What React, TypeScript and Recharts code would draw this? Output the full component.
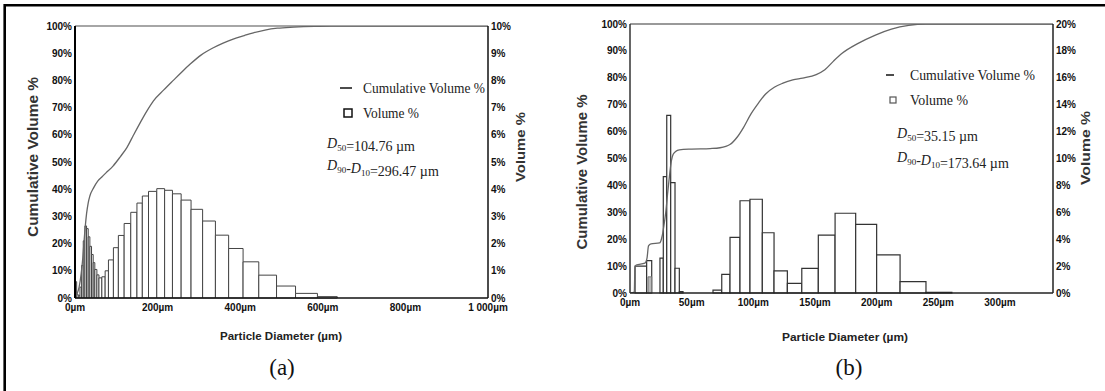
import React from 'react';
import { ComposedChart, Line, XAxis, YAxis, ReferenceArea, ReferenceLine } from 'recharts';

// ---------- Panel (a) data ----------
const A_BIN_EDGES = [0, 4, 8, 12, 16, 20, 24, 28, 32, 36, 40, 44, 48, 53, 58, 65, 73, 81, 93, 105, 119, 135, 150, 163, 178, 198, 217, 236, 257, 281, 309, 340, 372, 407, 445, 488, 534, 587, 635];
const A_VOLUME = [0.6, 0.12, 0.1, 0.4, 1.2, 2.1, 2.65, 2.55, 2.25, 1.9, 1.6, 1.3, 1.05, 0.85, 0.74, 0.78, 1.0, 1.4, 1.85, 2.3, 2.74, 3.15, 3.49, 3.75, 3.92, 4.02, 3.96, 3.83, 3.6, 3.26, 2.83, 2.31, 1.82, 1.33, 0.84, 0.44, 0.17, 0.05];
const A_CUM_X = [0, 5, 10, 15, 19, 22, 25, 28, 32, 36, 45, 55, 65, 75, 92, 110, 126, 142, 158, 175, 190, 215, 238, 260, 279, 305, 335, 360, 383, 410, 432, 460, 490, 530, 580, 620, 1000];
const A_CUM_Y = [0, 1.5, 4, 9, 15, 21, 26.5, 31, 35, 37.5, 40.5, 43, 44.5, 46, 48.5, 52, 55.4, 60, 64.5, 69, 72.5, 76.5, 80, 83.3, 86, 89.3, 92, 93.8, 95.2, 96.5, 97.5, 98.5, 99.2, 99.6, 99.9, 100, 100];
const A_X_TICKS = [0, 200, 400, 600, 800, 1000];
const A_LEFT_TICKS = [0, 10, 20, 30, 40, 50, 60, 70, 80, 90, 100];
const A_RIGHT_TICKS = [0, 1, 2, 3, 4, 5, 6, 7, 8, 9, 10];

// ---------- Panel (b) data ----------
const B_BIN_START = [4.1, 13.5, 24.3, 27, 29.8, 33, 36.5, 40, 67.3, 74.4, 81.1, 89.2, 97.3, 107.3, 116.8, 127.6, 139.3, 152.7, 166.3, 183, 200, 219, 240];
const B_BIN_END = [13.5, 17.6, 27, 29.8, 33, 36.5, 40, 43, 74.4, 81.1, 89.2, 97.3, 107.3, 116.8, 127.6, 139.3, 152.7, 166.3, 183, 200, 219, 240, 261];
const B_VOLUME = [2.0, 2.4, 2.6, 8.65, 13.2, 8.2, 1.84, 0.1, 0.22, 1.39, 4.14, 6.86, 6.97, 4.48, 1.64, 0.72, 1.83, 4.31, 5.93, 5.1, 2.83, 0.84, 0.05];
const B_INNER_START = [14.6];
const B_INNER_END = [17.6];
const B_INNER_VOLUME = [1.2];
const B_CUM_X = [0, 3.5, 4, 5, 12, 13.8, 15, 17, 24, 26, 27.5, 29, 30.5, 32, 33.5, 35, 37, 40, 50, 65, 73, 81, 87, 92, 98, 104, 110, 117, 124, 132, 140, 151, 158, 165, 172, 185, 199, 212, 226, 240, 343];
const B_CUM_Y = [0, 0.3, 9.5, 10.4, 11.1, 13, 17.5, 18.3, 18.6, 21, 25, 30, 37, 43.5, 49, 51.6, 52.6, 53.2, 53.5, 53.7, 54, 55.2, 58, 61.5, 66.5, 70.5, 74, 76.5, 78, 79.2, 79.9, 81.2, 83, 86.2, 89.1, 92.8, 95.9, 98.1, 99.5, 100, 100];
const B_X_TICKS = [0, 50, 100, 150, 200, 250, 300];
const B_LEFT_TICKS = [0, 10, 20, 30, 40, 50, 60, 70, 80, 90, 100];
const B_RIGHT_TICKS = [0, 2, 4, 6, 8, 10, 12, 14, 16, 18, 20];

const aCum = A_CUM_X.map((x, i) => ({ x, c: A_CUM_Y[i] }));
const bCum = B_CUM_X.map((x, i) => ({ x, c: B_CUM_Y[i] }));
const aBins = A_VOLUME.map((v, i) => ({ x1: A_BIN_EDGES[i], x2: A_BIN_EDGES[i + 1], v }));
const bBins = B_VOLUME.map((v, i) => ({ x1: B_BIN_START[i], x2: B_BIN_END[i], v }));
const bInner = B_INNER_VOLUME.map((v, i) => ({ x1: B_INNER_START[i], x2: B_INNER_END[i], v }));
// points at bin starts, used to bind the volume axis to the histogram series
const aBinPts = aBins.map((b) => ({ x: b.x1, v: b.v }));
const bBinPts = bBins.map((b) => ({ x: b.x1, v: b.v }));

const SANS = 'Liberation Sans, Arial, sans-serif';
const SERIF = 'Liberation Serif, Times New Roman, serif';
const tickStyle = { fontSize: 10, fontWeight: 700, fill: '#111', fontFamily: SANS };

const umFmt = (v: number) => (v === 1000 ? '1 000µm' : `${v}µm`);
const pctFmt = (v: number) => `${v}%`;

function Sub({ d, n }: { d: string; n: string }) {
  return (
    <>
      <tspan fontStyle="italic">{d}</tspan>
      <tspan fontSize={9} dy={3}>{n}</tspan>
      <tspan dy={-3}></tspan>
    </>
  );
}

export default function App() {
  return (
    <div style={{ position: 'absolute', left: 0, top: 0, width: 1105, height: 391, background: '#fff', overflow: 'hidden' }}>
      {/* Panel (a) */}
      <div style={{ position: 'absolute', left: 0, top: 0 }}>
        <ComposedChart width={550} height={391} data={aCum} margin={{ top: 26, right: 22, bottom: 63, left: 35 }}>
          <XAxis type="number" dataKey="x" domain={[0, 1000]} ticks={A_X_TICKS} interval={0} tickFormatter={umFmt} allowDataOverflow
            height={30} tickLine={false} tickSize={4} tickMargin={2} tick={tickStyle} axisLine={{ stroke: '#111', strokeWidth: 1.5 }} />
          <YAxis yAxisId="left" type="number" domain={[0, 100]} ticks={A_LEFT_TICKS} interval={0} tickFormatter={pctFmt} allowDataOverflow
            width={40} tickLine={false} tickSize={1} tickMargin={2} tick={tickStyle} axisLine={{ stroke: '#000', strokeWidth: 2 }} />
          <YAxis yAxisId="right" orientation="right" type="number" domain={[0, 10]} ticks={A_RIGHT_TICKS} interval={0} tickFormatter={pctFmt} allowDataOverflow
            width={40} tickLine={false} tickSize={1} tickMargin={2} tick={tickStyle} axisLine={{ stroke: '#111', strokeWidth: 1.5 }} />
          <Line yAxisId="right" data={aBinPts} dataKey="v" type="stepAfter" stroke="none" strokeOpacity={0} dot={false} activeDot={false} isAnimationActive={false} legendType="none" />
          <ReferenceLine yAxisId="left" y={100} stroke="#888" strokeWidth={1.5} />
          {aBins.map((b, i) => (
            <ReferenceArea key={'a' + i} yAxisId="right" x1={b.x1} x2={b.x2} y1={0} y2={b.v} ifOverflow="visible"
              fill="#fff" fillOpacity={1} stroke="#444" strokeWidth={1} />
          ))}
          <Line yAxisId="left" type="monotone" dataKey="c" stroke="#666" strokeWidth={1.3} dot={false} isAnimationActive={false} />
        </ComposedChart>
      </div>

      {/* Panel (b) */}
      <div style={{ position: 'absolute', left: 550, top: 0 }}>
        <ComposedChart width={555} height={391} data={bCum} margin={{ top: 24, right: 12, bottom: 68, left: 40 }}>
          <XAxis type="number" dataKey="x" domain={[0, 343]} ticks={B_X_TICKS} interval={0} tickFormatter={umFmt} allowDataOverflow
            height={30} tickLine={false} tickSize={4} tickMargin={2} tick={tickStyle} axisLine={{ stroke: '#222', strokeWidth: 1.5 }} />
          <YAxis yAxisId="left" type="number" domain={[0, 100]} ticks={B_LEFT_TICKS} interval={0} tickFormatter={pctFmt} allowDataOverflow
            width={40} tickLine={false} tickSize={1} tickMargin={2} tick={tickStyle} axisLine={{ stroke: '#333', strokeWidth: 1.5 }} />
          <YAxis yAxisId="right" orientation="right" type="number" domain={[0, 20]} ticks={B_RIGHT_TICKS} interval={0} tickFormatter={pctFmt} allowDataOverflow
            width={40} tickLine={false} tickSize={1} tickMargin={2} tick={tickStyle} axisLine={{ stroke: '#222', strokeWidth: 1.5 }} />
          <Line yAxisId="right" data={bBinPts} dataKey="v" type="stepAfter" stroke="none" strokeOpacity={0} dot={false} activeDot={false} isAnimationActive={false} legendType="none" />
          <ReferenceLine yAxisId="left" y={100} stroke="#777" strokeWidth={1.5} />
          {bBins.map((b, i) => (
            <ReferenceArea key={'b' + i} yAxisId="right" x1={b.x1} x2={b.x2} y1={0} y2={b.v} ifOverflow="visible"
              fill="#fff" fillOpacity={1} stroke="#333" strokeWidth={1.2} />
          ))}
          {bInner.map((b, i) => (
            <ReferenceArea key={'bi' + i} yAxisId="right" x1={b.x1} x2={b.x2} y1={0} y2={b.v} ifOverflow="visible"
              fill="#bbb" fillOpacity={1} stroke="#777" strokeWidth={1} />
          ))}
          <Line yAxisId="left" type="monotone" dataKey="c" stroke="#666" strokeWidth={1.3} dot={false} isAnimationActive={false} />
        </ComposedChart>
      </div>

      {/* Text overlay: frame, titles, legends, captions */}
      <svg width={1105} height={391} style={{ position: 'absolute', left: 0, top: 0, pointerEvents: 'none' }}>
        <path d="M4.7,391 L4.7,5.3 L1105,5.3" fill="none" stroke="#000" strokeWidth={2.6} />

        {/* axis titles (a) */}
        <text transform="translate(33,157) rotate(-90)" textAnchor="middle" dy="0.35em" fontFamily={SANS} fontWeight={700}
          fontSize={14} fill="#333" textLength={160} lengthAdjust="spacingAndGlyphs">Cumulative Volume %</text>
        <text transform="translate(521,147) rotate(-90)" textAnchor="middle" dy="0.35em" fontFamily={SANS} fontWeight={700}
          fontSize={12} fill="#333" textLength={70} lengthAdjust="spacingAndGlyphs">Volume %</text>
        <text x={281} y={336} textAnchor="middle" dy="0.35em" fontFamily={SANS} fontWeight={700}
          fontSize={11} fill="#222" textLength={122} lengthAdjust="spacingAndGlyphs">Particle Diameter (µm)</text>

        {/* axis titles (b) */}
        <text transform="translate(582,172) rotate(-90)" textAnchor="middle" dy="0.35em" fontFamily={SANS} fontWeight={700}
          fontSize={14} fill="#333" textLength={155} lengthAdjust="spacingAndGlyphs">Cumulative Volume %</text>
        <text transform="translate(1086,148) rotate(-90)" textAnchor="middle" dy="0.35em" fontFamily={SANS} fontWeight={700}
          fontSize={12} fill="#333" textLength={74} lengthAdjust="spacingAndGlyphs">Volume %</text>
        <text x={845} y={337} textAnchor="middle" dy="0.35em" fontFamily={SANS} fontWeight={700}
          fontSize={11} fill="#222" textLength={126} lengthAdjust="spacingAndGlyphs">Particle Diameter (µm)</text>

        {/* legend (a) */}
        <line x1={340} x2={352} y1={88} y2={88} stroke="#111" strokeWidth={1.5} />
        <text x={363} y={88} dy="0.35em" fontFamily={SERIF} fontSize={14} fill="#222" textLength={122} lengthAdjust="spacingAndGlyphs">Cumulative Volume %</text>
        <rect x={344} y={109} width={8} height={8} fill="none" stroke="#111" strokeWidth={1.5} />
        <text x={363} y={113} dy="0.35em" fontFamily={SERIF} fontSize={14} fill="#222" textLength={56} lengthAdjust="spacingAndGlyphs">Volume %</text>
        <text x={327} y={143} dy="0.35em" fontFamily={SERIF} fontSize={14} fill="#222">
          <Sub d="D" n="50" />=104.76 µm
        </text>
        <text x={327} y={165} dy="0.35em" fontFamily={SERIF} fontSize={14} fill="#222">
          <Sub d="D" n="90" />-<Sub d="D" n="10" />=296.47 µm
        </text>

        {/* legend (b) */}
        <line x1={886} x2={894} y1={75} y2={75} stroke="#111" strokeWidth={1.5} />
        <text x={910} y={75} dy="0.35em" fontFamily={SERIF} fontSize={14} fill="#222" textLength={125} lengthAdjust="spacingAndGlyphs">Cumulative Volume %</text>
        <rect x={890} y={97} width={6} height={6} fill="none" stroke="#555" strokeWidth={1.2} />
        <text x={910} y={100} dy="0.35em" fontFamily={SERIF} fontSize={14} fill="#222" textLength={58} lengthAdjust="spacingAndGlyphs">Volume %</text>
        <text x={897} y={133} dy="0.35em" fontFamily={SERIF} fontSize={14} fill="#222">
          <Sub d="D" n="50" />=35.15 µm
        </text>
        <text x={897} y={157} dy="0.35em" fontFamily={SERIF} fontSize={14} fill="#222">
          <Sub d="D" n="90" />-<Sub d="D" n="10" />=173.64 µm
        </text>

        {/* captions */}
        <text x={282} y={375} textAnchor="middle" fontFamily={SERIF} fontSize={23} fill="#111">(a)</text>
        <text x={849} y={375} textAnchor="middle" fontFamily={SERIF} fontSize={23} fill="#111">(b)</text>
      </svg>
    </div>
  );
}
